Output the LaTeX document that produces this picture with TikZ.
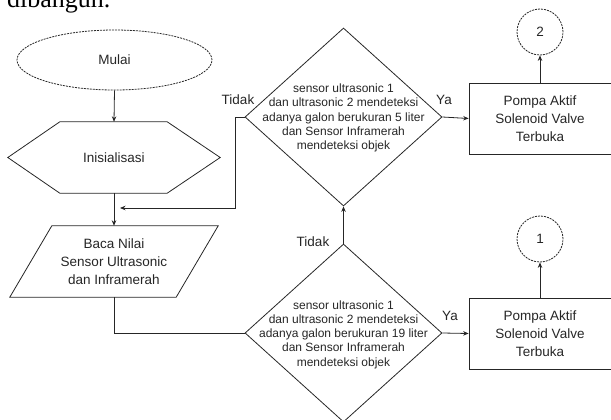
\documentclass[tikz,border=0pt]{standalone}
\usepackage{fontspec}
\setmainfont{Liberation Sans}
\newfontfamily\serifx{Liberation Serif}
\usetikzlibrary{shapes.geometric,arrows.meta}
\begin{document}
\begin{tikzpicture}[x=1pt,y=-1pt,
  line/.style={draw=black!85, line width=0.8pt},
  arr/.style={line, -{Stealth[length=5.5pt,width=4.5pt]}},
  txt/.style={font=\fontsize{13.5}{18}\selectfont, align=center, text=black!85},
  dtxt/.style={font=\fontsize{12}{14.2}\selectfont, align=center, text=black!85, inner sep=0pt},
  lbl/.style={font=\fontsize{13.5}{16}\selectfont, inner sep=0pt, text=black!85},
  dia/.style={diamond, line, minimum width=197pt, minimum height=178pt, inner sep=0pt},
  pbox/.style={rectangle, line, minimum width=142pt, minimum height=71pt, inner sep=0pt, txt},
  conn/.style={circle, draw=black!85, dash pattern=on 2pt off 1pt, line width=0.8pt, minimum size=46pt, inner sep=0pt, txt},
]
\useasboundingbox (0,0) rectangle (611,420);
\node[anchor=base west, inner sep=0pt, font=\serifx\fontsize{26}{30}\selectfont] (top) at (7,8) {dibangun.};
% start
\node[ellipse, draw=black!85, dash pattern=on 2pt off 1pt, line width=0.8pt, minimum width=195pt, minimum height=60pt, inner sep=0pt, txt] (mulai) at (114.5,60) {Mulai};
% init hexagon
\node[minimum width=212pt, minimum height=71pt, inner sep=0pt, txt] (init) at (114,157.5) {Inisialisasi};
\draw[line] (init.west) -- ([xshift=52pt]init.north west) -- ([xshift=-53pt]init.north east) -- (init.east) -- ([xshift=-53pt]init.south east) -- ([xshift=52pt]init.south west) -- cycle;
% input parallelogram
\node[minimum width=208pt, minimum height=71pt, inner sep=0pt, txt] (baca) at (114,261.5) {Baca Nilai\\Sensor Ultrasonic\\dan Inframerah};
\draw[line] ([xshift=42pt]baca.north west) -- (baca.north east) -- ([xshift=-42pt]baca.south east) -- (baca.south west) -- cycle;
% decisions
\node[dia] (d1) at (343.5,117) {};
\node[dtxt] (d1t) at (343.5,118) {sensor ultrasonic 1\\dan ultrasonic 2 mendeteksi\\adanya galon berukuran 5 liter\\dan Sensor Inframerah\\mendeteksi objek};
\node[dia] (d2) at (343.5,333) {};
\node[dtxt] (d2t) at (343.5,334.5) {sensor ultrasonic 1\\dan ultrasonic 2 mendeteksi\\adanya galon berukuran 19 liter\\dan Sensor Inframerah\\mendeteksi objek};
% process boxes
\node[pbox] (b1) at (540,118.5) {Pompa Aktif\\Solenoid Valve\\Terbuka};
\node[pbox] (b2) at (540,333.5) {Pompa Aktif\\Solenoid Valve\\Terbuka};
% connectors
\node[conn] (c2) at (540,32) {2};
\node[conn] (c1) at (540,239) {1};
% labels
\node[lbl] (t1) at (238,100) {Tidak};
\node[lbl] (t2) at (313,242) {Tidak};
\node[lbl] (y1) at (444,100) {Ya};
\node[lbl] (y2) at (450,316) {Ya};
% edges
\coordinate (jn) at (120,208);
\draw[arr] (mulai.south) -- (init.north);
\draw[arr] (init.south) -- (baca.north);
\draw[arr] (d1.west) -- ++(-9,0) |- (jn);
\draw[line] (baca.south) |- (d2.west);
\draw[arr] (d2.north) -- (d1.south);
\draw[arr] (d1.east) -- (b1.west);
\draw[arr] (d2.east) -- (b2.west);
\draw[arr] (b1.north) -- (c2.south);
\draw[arr] (b2.north) -- (c1.south);
\end{tikzpicture}
\end{document}
